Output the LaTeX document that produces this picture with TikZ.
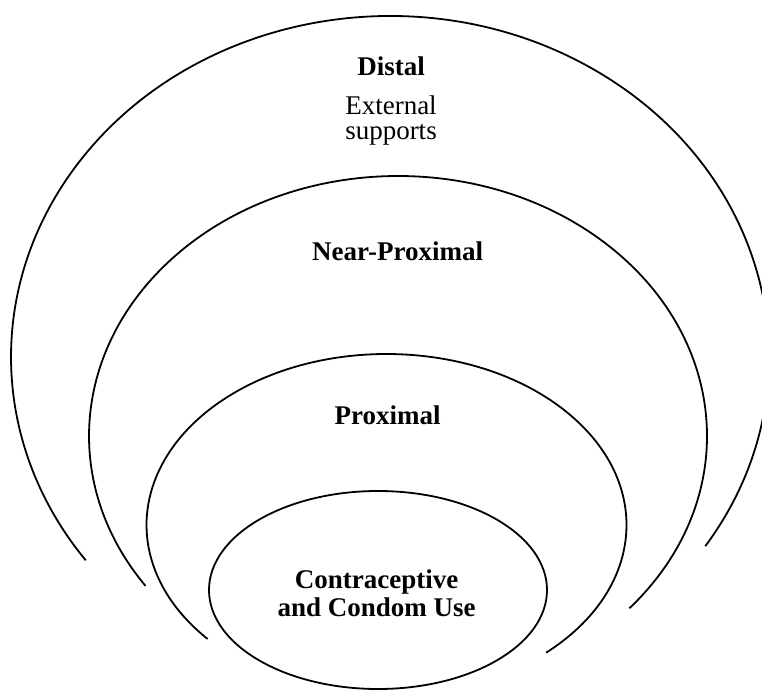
\documentclass[tikz,border=0pt]{standalone}
\usepackage{fontspec}
\setmainfont{Liberation Serif}
\begin{document}
\begin{tikzpicture}[x=1pt,y=1pt,
  ring/.style={draw=black,line width=1.8pt},
  lbl/.style={font=\fontsize{27}{28}\selectfont\bfseries,anchor=base,inner sep=0pt},
  sub/.style={font=\fontsize{27}{28}\selectfont,anchor=base,inner sep=0pt}]
\useasboundingbox (0,0) rectangle (762,691);
% outer arc (Distal)
\draw[ring] ([shift={(-33.7:379 and 341)}]390,334) arc[start angle=-33.7,end angle=216.6,x radius=379,y radius=341];
% near-proximal arc
\draw[ring] ([shift={(-41.5:309 and 260)}]398,255) arc[start angle=-41.5,end angle=215.2,x radius=309,y radius=260];
% proximal arc
\draw[ring] ([shift={(-48.3:240 and 171)}]386.5,166) arc[start angle=-48.3,end angle=221.8,x radius=240,y radius=171];
% inner ellipse
\draw[ring] (378,101) ellipse[x radius=169,y radius=99];
% labels
\node[lbl] (distal) at (391,615) {Distal};
\node[sub] (ext1) at (391,576) {External};
\node[sub] (ext2) at (391,551) {supports};
\node[lbl] (near) at (397.7,430.3) {Near-Proximal};
\node[lbl] (prox) at (387.5,266.7) {Proximal};
\node[lbl] (core1) at (376.7,102.7) {Contraceptive};
\node[lbl] (core2) at (376.7,75) {and Condom Use};
\end{tikzpicture}
\end{document}
